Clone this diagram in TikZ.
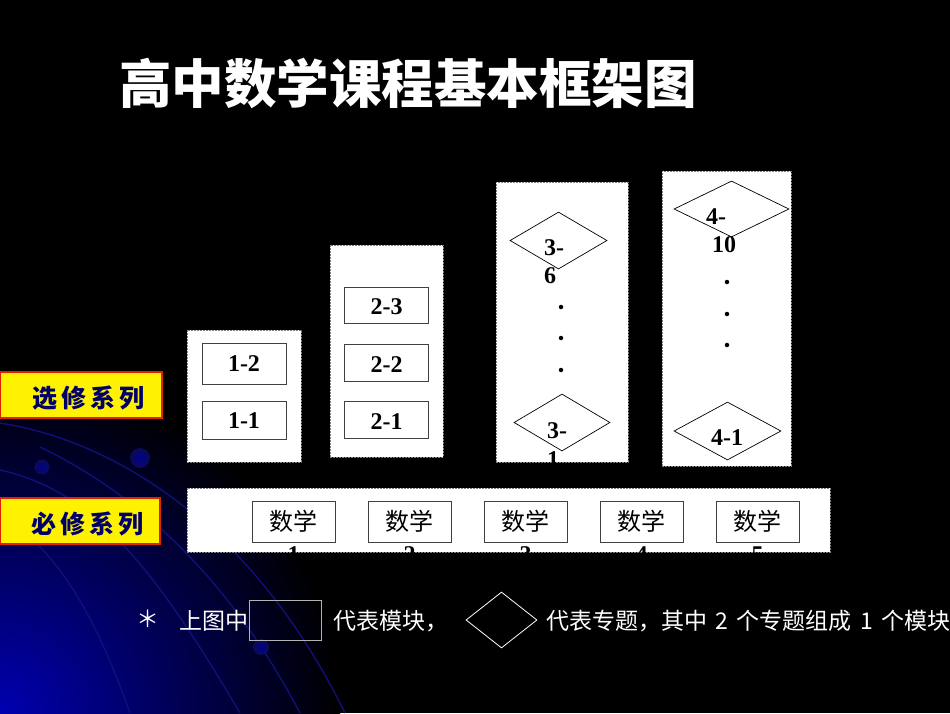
\documentclass[tikz,border=0pt]{standalone}
\usepackage{fontspec}
\setmainfont{Liberation Serif}
\newfontfamily\cjk{Noto Sans CJK SC}
\usetikzlibrary{shapes.geometric}
\definecolor{navy}{HTML}{000066}
\definecolor{lblred}{HTML}{E02000}
\definecolor{bgblue}{HTML}{0000B0}
\definecolor{curveblue}{HTML}{101078}
\tikzset{
  grp/.style={draw=gray, fill=white, dash pattern=on 2pt off 1pt, line width=0.8pt, inner sep=0pt},
  modbox/.style={draw=black!75, fill=white, line width=0.8pt, inner sep=0pt, minimum width=84, minimum height=38},
  topicdia/.style={diamond, draw=black, fill=white, line width=0.7pt, inner sep=0pt},
  lbl/.style={font=\bfseries\fontsize{24}{27}\selectfont, text=black, inner sep=0pt},
  cjktxt/.style={font=\cjk\fontsize{24}{27}\selectfont, text=black, inner sep=0pt},
  series/.style={draw=lblred, fill=yellow, line width=1.5pt, inner sep=0pt, minimum height=46},
  note/.style={font=\cjk\fontsize{23}{26}\selectfont, text=white, inner sep=0pt},
  vdot/.style={circle, fill=black, inner sep=0pt, minimum size=4.5pt},
  bgcurve/.style={draw=curveblue, line width=1.4pt},
  bgball/.style={circle, inner color=blue!55!black, outer color=curveblue!70!black, inner sep=0pt}
}
\begin{document}
\begin{tikzpicture}[x=1pt,y=-1pt]
\useasboundingbox (0,0) rectangle (950,713);
% background
\fill[black] (0,0) rectangle (950,713);
\begin{scope}
\clip (0,0) rectangle (950,713);
\shade[inner color=bgblue, outer color=black] (0,713) circle[radius=340pt];
\draw[bgcurve] (0,423) .. controls (110,440) and (250,520) .. (345,713);
\draw[bgcurve] (40,447) .. controls (140,495) and (230,580) .. (300,713);
\draw[bgcurve] (0,470) .. controls (90,490) and (150,560) .. (240,713);
\draw[bgcurve] (0,515) .. controls (50,545) and (90,600) .. (130,713);
\end{scope}
\node[bgball, minimum size=15] (b1) at (42,467) {};
\node[bgball, minimum size=20] (b2) at (140,458) {};
\node[bgball, minimum size=16] (b3) at (261,647) {};

% title
\node[font=\cjk\bfseries\fontsize{52.5}{58}\selectfont, text=white, inner sep=0pt] (title) at (408,83) {高中数学课程基本框架图};

% series labels
\node[series, minimum width=162] (xuanxiu) at (81,395) {};
\node[font=\cjk\bfseries\fontsize{25}{28}\selectfont, text=navy, inner sep=0pt] (xuanxiut) at (88,398) {选\hspace{4pt}修\hspace{4pt}系\hspace{4pt}列};
\node[series, minimum width=160] (bixiu) at (80,521) {};
\node[font=\cjk\bfseries\fontsize{25}{28}\selectfont, text=navy, inner sep=0pt] (bixiut) at (87,524) {必\hspace{4pt}修\hspace{4pt}系\hspace{4pt}列};

% group boxes
\node[grp, minimum width=114, minimum height=132] (g1) at (244,396) {};
\node[grp, minimum width=113, minimum height=212] (g2) at (386.5,351) {};
\node[grp, minimum width=132, minimum height=280] (g3) at (562,322) {};
\node[grp, minimum width=129, minimum height=295] (g4) at (726.5,318.5) {};

% modules series 1 and 2
\node[modbox, minimum height=41] (m12) at (244,363.5) {};
\node[lbl] (m12t) at (244,364) {1-2};
\node[modbox] (m11) at (244,420) {};
\node[lbl] (m11t) at (244,421) {1-1};
\node[modbox, minimum height=36] (m23) at (386.5,305) {};
\node[lbl] (m23t) at (386.5,307) {2-3};
\node[modbox, minimum height=37] (m22) at (386.5,362.5) {};
\node[lbl] (m22t) at (386.5,365) {2-2};
\node[modbox, minimum height=37] (m21) at (386.5,419.5) {};
\node[lbl] (m21t) at (386.5,422) {2-1};

% series 3
\node[topicdia, minimum width=97, minimum height=57] (d36) at (558.5,240.5) {};
\node[lbl] (d36a) at (554,248) {3-};
\node[lbl] (d36b) at (550,276) {6};
\node[vdot] (v31) at (561,307) {};
\node[vdot] (v32) at (561,338) {};
\node[vdot] (v33) at (561,370) {};
\node[topicdia, minimum width=96, minimum height=57] (d31) at (562,422.5) {};
\node[lbl] (d31a) at (557,431) {3-};
% series 4
\node[topicdia, minimum width=115, minimum height=56] (d410) at (731.5,209) {};
\node[lbl] (d410a) at (716,217) {4-};
\node[lbl] (d410b) at (724,245) {10};
\node[vdot] (v41) at (727,282) {};
\node[vdot] (v42) at (727,314) {};
\node[vdot] (v43) at (727,345) {};
\node[topicdia, minimum width=107, minimum height=58] (d41) at (727.5,431) {};
\node[lbl] (d41t) at (727,438) {4-1};

% compulsory
\node[grp, minimum width=643, minimum height=64] (g5) at (508.5,520) {};
\begin{scope}
\clip (g3.south west) rectangle (g3.north east);
\node[lbl] (d31b) at (553,460) {1};
\end{scope}
\begin{scope}
\clip (g5.south west) rectangle (g5.north east);
\foreach \i/\x in {1/293.5,2/409.5,3/525.5,4/641.5,5/757.5}{
  \node[modbox, minimum width=83, minimum height=41] (s\i) at (\x,521.5) {};
  \node[cjktxt] (s\i t) at (\x,521) {数学};
  \node[lbl] (s\i n) at (\x,555) {\i};
}
\end{scope}

% footnote
\node[note] (star) at (148,619) {＊};
\node[note, anchor=west] (n1) at (179,621) {上图中};
\node[draw=gray!60!white, line width=1pt, minimum width=72, minimum height=40, inner sep=0pt] (legbox) at (285,620) {};
\node[note, anchor=west] (n2) at (333,621) {代表模块，};
\node[diamond, draw=white, line width=0.8pt, minimum width=71, minimum height=56, inner sep=0pt] (legdia) at (501.5,620) {};
\node[note, anchor=west] (n3) at (546,621) {代表专题，其中\hspace{8.5pt}2\hspace{8.5pt}个专题组成\hspace{8.5pt}1\hspace{8.5pt}个模块};
\end{tikzpicture}
\end{document}
